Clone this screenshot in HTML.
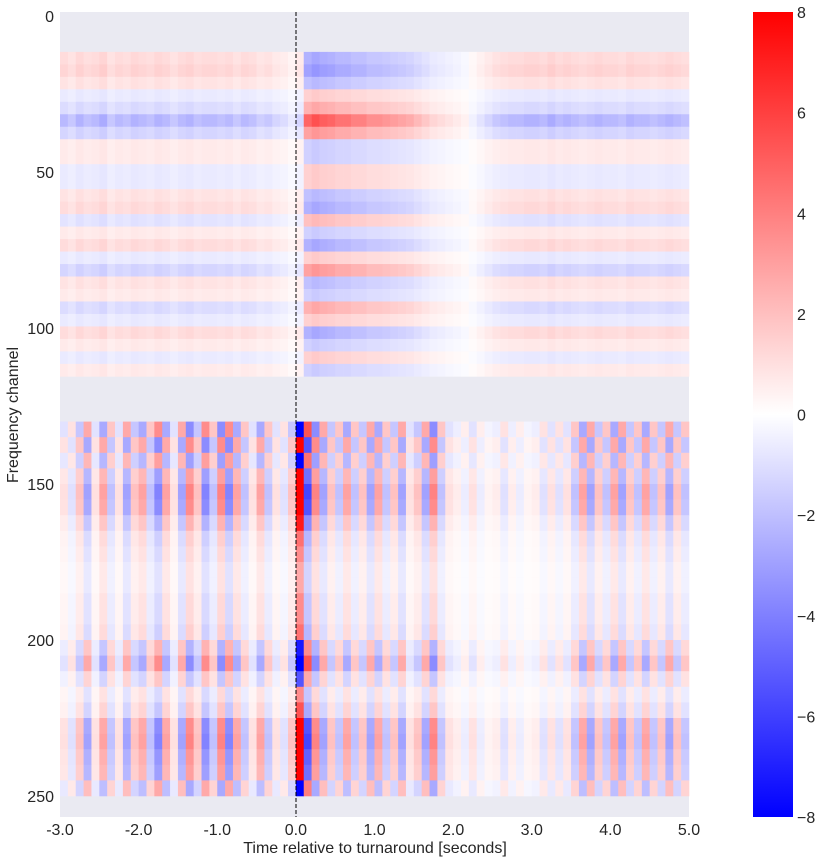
<!DOCTYPE html>
<html><head><meta charset="utf-8"><style>
body{margin:0;background:#fff;font-family:"Liberation Sans",sans-serif}
svg text{font-family:"Liberation Sans",sans-serif;fill:#262626}
</style></head><body>
<svg id="chart" width="827" height="862" xmlns="http://www.w3.org/2000/svg">
<defs><linearGradient id="cb" x1="0" y1="0" x2="0" y2="1">
<stop offset="0" stop-color="#ff0000"/><stop offset="0.5" stop-color="#ffffff"/><stop offset="1" stop-color="#0000ff"/></linearGradient></defs>
<rect x="60" y="12" width="629" height="805" fill="#eaeaf2"/>
<g id="cells"></g>
<line x1="296" y1="12" x2="296" y2="817" stroke="#000" stroke-width="1" stroke-dasharray="4,2"/>
<g id="xt"></g>
<g id="yt"></g>
<text x="375" y="853" font-size="16" text-anchor="middle">Time relative to turnaround [seconds]</text>
<text transform="translate(18,415) rotate(-90)" font-size="16" text-anchor="middle">Frequency channel</text>
<rect x="753" y="12" width="40" height="805" fill="url(#cb)"/>
<g id="ct"></g>
</svg>
<script>
const xTicks=[-3,-2,-1,0,1,2,3,4,5];
const yTicks=[0,50,100,150,200,250];
const cTicks=[8,6,4,2,0,-2,-4,-6,-8];
const lowerCol=[0.5,-0.5,1,-1.5,0.5,1.5,-1,0.5,-1.5,1,
1.5,-1,-2,1.5,0.5,-1.5,2,1,-2,-1,
2,-2,1.5,-1,0.5,1.5,-1,0.5,-0.5,1,
6,-3,2,-1.5,1,-1,1.5,-1,1,-1.5,
1.5,-1,1,-1.5,0.5,1,-1.5,2,-1,0.5,
0.3,-0.3,0.5,-0.3,0.2,0.3,-0.5,0.3,-0.3,0.2,
0.3,-0.5,0.5,-0.5,0.5,-1,1.5,-1.5,1,-1,
1.5,-1.5,1,-1,1.5,-1,1,-1.5,1,-1];
const lowerRow=[-1.2,1.2,-1,1,1.3,1.2,0.8,0.5,0.4,0.3,0.3,0.4,0.4,0.5,-0.8,-1.2,-0.6,0.4,0.6,1.2,1.3,1.1,1,-0.9];
const upperCol=[1,0.8,1.1,0.9,1,1.2,0.8,1,0.9,1.1,
1,0.9,1.1,1,0.8,1,1.1,0.9,1,1,
0.9,1,0.8,1,0.9,0.7,0.8,0.6,0.5,0.3,
0.6,-2.2,-2.5,-2.3,-2.2,-2,-2,-1.8,-1.8,-1.6,
-1.6,-1.5,-1.4,-1.3,-1.2,-1,-0.8,-0.6,-0.5,-0.4,
-0.3,-0.2,0.2,0.4,0.6,0.8,0.9,1,1,1.1,
1.1,1,1.2,1,1.1,1,0.9,1,1.1,1,
1,0.9,1.1,1,1,0.9,1,1.1,1,0.9];
const upperRow=[0.5,0.6,0.4,-0.3,-0.5,-1,-0.6,0.3,0.3,-0.3,-0.3,0.4,0.5,-0.4,0.3,0.5,-0.3,-0.6,0.4,0.3,-0.5,-0.3,0.5,0.3,-0.3,0.3];
const X=t=>60+(t+3)*78.625, Y=c=>16+c*3.12;
function col(v){let t=Math.max(-1,Math.min(1,v/8));
 if(t>=0){const g=Math.round(255*(1-t));return `rgb(255,${g},${g})`;}
 const g=Math.round(255*(1+t));return `rgb(${g},${g},255)`;}
const NS="http://www.w3.org/2000/svg",cells=document.getElementById('cells');
function cell(t0,c0,c1,v){const r=document.createElementNS(NS,'rect');
 
 
 r.setAttribute('x',X(t0));r.setAttribute('y',Y(c0));
 r.setAttribute('width',X(t0+0.1)-X(t0)+0.3);r.setAttribute('height',Y(c1)-Y(c0)+0.3);
 r.setAttribute('fill',col(v));cells.appendChild(r);}
upperRow.forEach((rv,i)=>upperCol.forEach((cv,j)=>cell(-3+j*0.1,11.5+i*4,Math.min(115.5,15.5+i*4),rv*cv*2.2)));
lowerRow.forEach((rv,i)=>lowerCol.forEach((cv,j)=>cell(-3+j*0.1,130+i*5,135+i*5>251?251:135+i*5,rv*cv*1.5)));
function txt(g,x,y,s,a){const t=document.createElementNS(NS,'text');
 
 
 t.setAttribute('x',x);t.setAttribute('y',y);t.setAttribute('font-size','16');t.setAttribute('text-anchor',a);t.textContent=s;document.getElementById(g).appendChild(t);}
xTicks.forEach(v=>txt('xt',X(v),835,v.toFixed(1),'middle'));
yTicks.forEach(v=>txt('yt',54,Y(v)+6,String(v),'end'));
cTicks.forEach(v=>txt('ct',797,12+(8-v)/16*805+6,v<0?'\u2212'+(-v):String(v),'start'));
</script>
</body></html>
